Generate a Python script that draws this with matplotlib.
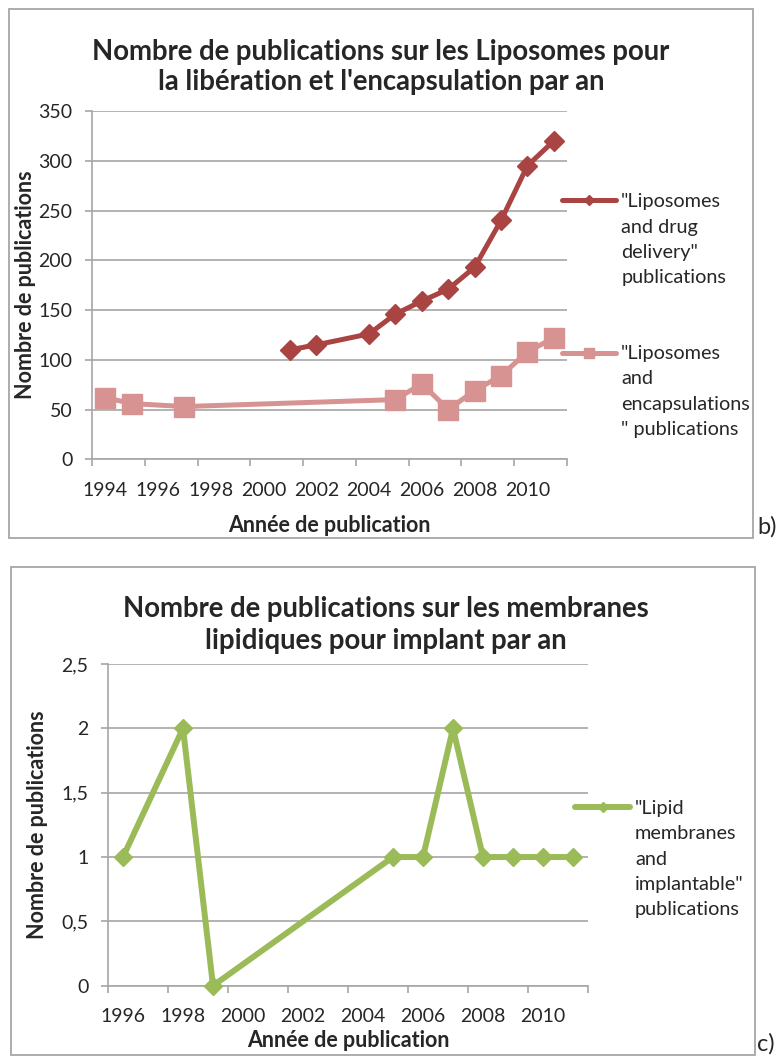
import matplotlib
matplotlib.use("Agg")
import matplotlib.pyplot as plt
from matplotlib.patches import Rectangle

plt.rcParams["font.family"] = ["Lato", "DejaVu Sans"]

# données
annees_drug = [2001, 2002, 2004, 2005, 2006, 2007, 2008, 2009, 2010, 2011]
pubs_drug = [110, 115, 126, 146, 159, 171, 193, 240, 295, 320]
annees_encap = [1994, 1995, 1997, 2005, 2006, 2007, 2008, 2009, 2010, 2011]
pubs_encap = [62, 56, 53, 60, 76, 50, 69, 84, 108, 122]
annees_lipid = [1996, 1998, 1999, 2005, 2006, 2007, 2008, 2009, 2010, 2011]
pubs_lipid = [1, 2, 0, 1, 1, 2, 1, 1, 1, 1]

labels_b = ['"Liposomes\nand drug\ndelivery"\npublications',
            '"Liposomes\nand\nencapsulations\n" publications']
labels_c = ['"Lipid\nmembranes\nand\nimplantable"\npublications']

titre_b = "Nombre de publications sur les Liposomes pour\nla libération et l'encapsulation par an"
titre_c = "Nombre de publications sur les membranes\nlipidiques pour implant par an"

ROUGE, ROSE, VERT = "#A94442", "#D79391", "#9BBB59"
GRIS, TXT = "#A6A6A6", "#262626"

W, H = 784, 1057
fig = plt.figure(figsize=(W / 100, H / 100), dpi=100)

def box(x0, y0, x1, y1):
    return [x0 / W, 1 - y1 / H, (x1 - x0) / W, (y1 - y0) / H]

# cadres
for (x0, y0, x1, y1) in [(9, 9, 753, 538), (11, 567, 755, 1055)]:
    fig.add_artist(Rectangle((x0 / W, 1 - y1 / H), (x1 - x0) / W, (y1 - y0) / H,
                             transform=fig.transFigure, fill=False,
                             edgecolor=GRIS, linewidth=1.3))

def style_axes(ax, x0, x1, ymax, ystep, fmt):
    ax.set_xlim(x0, x1)
    ax.set_ylim(0, ymax)
    for s in ["top", "right"]:
        ax.spines[s].set_visible(False)
    for s in ["left", "bottom"]:
        ax.spines[s].set_color(GRIS)
        ax.spines[s].set_linewidth(1.2)
    yt = [i * ystep for i in range(int(round(ymax / ystep)) + 1)]
    ax.set_yticks(yt)
    ax.set_yticklabels([fmt(v) for v in yt])
    ax.yaxis.grid(True, color=GRIS, linewidth=1.2)
    ax.set_axisbelow(True)
    ax.set_xticks(range(x0, x1 + 1, 2))
    ax.set_xticklabels([])
    ax.set_xticks([y + 0.5 for y in range(x0, x1 - 1, 2)], minor=True)
    ax.set_xticklabels([str(y) for y in range(x0, x1 - 1, 2)], minor=True)
    ax.tick_params(axis="both", which="major", length=5, width=1.2, color=GRIS,
                   direction="out", labelsize=14, labelcolor=TXT)
    ax.tick_params(axis="y", pad=9)
    ax.tick_params(axis="x", which="minor", length=0, pad=16, labelsize=14,
                   labelcolor=TXT)

def legend_entry(ax, x, y, ytxt, xtxt, text, color, marker, ms, lw):
    ax.plot([x, x + 0.115], [y, y], transform=ax.transAxes, clip_on=False,
            color=color, linewidth=lw, solid_capstyle="round")
    ax.plot([x + 0.0575], [y], transform=ax.transAxes, clip_on=False,
            color=color, marker=marker, markersize=ms, linestyle="none")
    ax.text(xtxt, ytxt, text, transform=ax.transAxes, va="top", ha="left",
            fontsize=14.3, color=TXT, linespacing=1.6)

# b)
ax1 = fig.add_axes(box(92, 111, 567, 459.3))
style_axes(ax1, 1994, 2012, 350, 50, lambda v: f"{v:g}")
ax1.plot([a + 0.5 for a in annees_drug], pubs_drug, color=ROUGE, linewidth=3.6,
         marker="D", markersize=10.5, zorder=3)
ax1.plot([a + 0.5 for a in annees_encap], pubs_encap, color=ROSE, linewidth=3.6,
         marker="s", markersize=14, zorder=3)
ax1.set_xlabel("Année de publication", fontsize=15.5, fontweight="bold",
               color=TXT, labelpad=12)
ax1.set_ylabel("Nombre de publications", fontsize=15.5, fontweight="bold",
               color=TXT, labelpad=2)
legend_entry(ax1, 0.989, 0.744, 0.764, 1.114, labels_b[0], ROUGE, "D", 5.5, 3.6)
legend_entry(ax1, 0.989, 0.306, 0.328, 1.114, labels_b[1], ROSE, "s", 7, 3.6)
fig.text(381 / W, 1 - 67 / H, titre_b, ha="center", va="center", fontsize=19.8,
         fontweight="bold", color=TXT, linespacing=1.18)
fig.text(757 / W, 1 - 527 / H, "b)", ha="left", va="center", fontsize=17,
         color=TXT)

# c)
ax2 = fig.add_axes(box(108, 664, 588, 985.7))
style_axes(ax2, 1996, 2012, 2.5, 0.5, lambda v: f"{v:g}".replace(".", ","))
ax2.plot([a + 0.5 for a in annees_lipid], pubs_lipid, color=VERT, linewidth=4.3,
         marker="D", markersize=9, zorder=3, clip_on=False)
ax2.set_xlabel("Année de publication", fontsize=15.5, fontweight="bold",
               color=TXT, labelpad=4)
ax2.set_ylabel("Nombre de publications", fontsize=15.5, fontweight="bold",
               color=TXT, labelpad=10)
legend_entry(ax2, 0.973, 0.555, 0.578, 1.098, labels_c[0], VERT, "D", 5.5, 4.3)
fig.text(386 / W, 1 - 625 / H, titre_c, ha="center", va="center", fontsize=19.8,
         fontweight="bold", color=TXT, linespacing=1.3)
fig.text(757 / W, 1 - 1044 / H, "c)", ha="left", va="center", fontsize=17,
         color=TXT)

fig.savefig("out.png", dpi=100)
